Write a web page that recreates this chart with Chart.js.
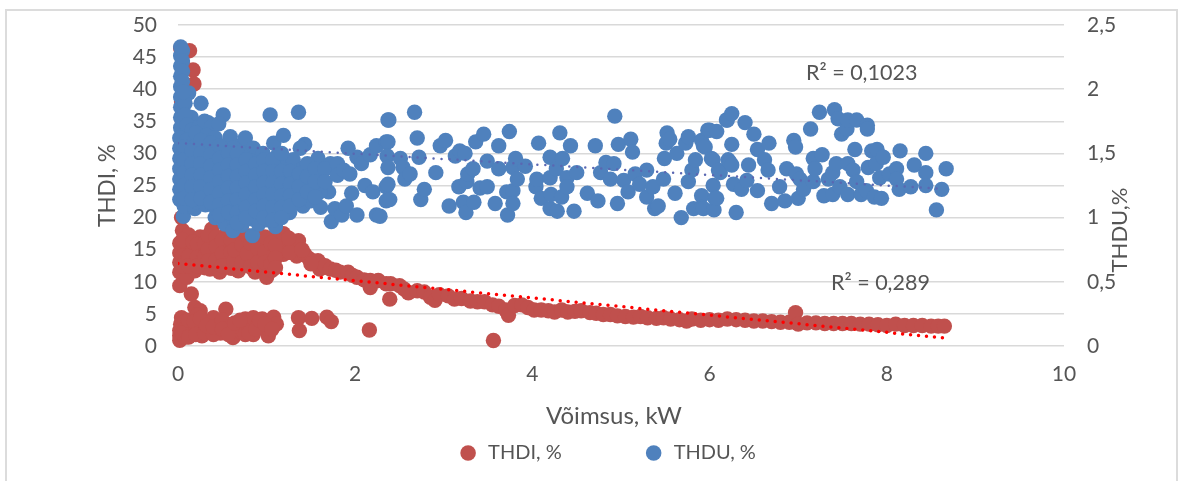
<!DOCTYPE html>
<html>
<head>
<meta charset="utf-8">
<script src="https://cdn.jsdelivr.net/npm/chart.js@4/dist/chart.umd.min.js"></script>
<style>
  html, body { margin: 0; padding: 0; background: #fff; }
  #frame { position: relative; width: 1178px; height: 481px; overflow: hidden; }
  #frame::after { content: ''; position: absolute; left: 5px; right: 0; top: 9px; bottom: -4px; border: 2px solid #dcdcdc; pointer-events: none; }
</style>
</head>
<body>
<div id="frame"><canvas id="chart" width="1178" height="481"></canvas></div>
<script>
// [power kW, THDI %]
const thdiPoints = [
  // spike at low power
  [0.03,46.4],[0.13,46],[0.17,43],[0.18,40.8],[0.05,44],[0.05,41],[0.04,38],[0.05,35],[0.04,32],[0.05,29],[0.04,26],[0.05,23],[0.04,20],[0.05,18],
  // main clump
  [0.02,16],[0.02,14.5],[0.02,13],[0.02,11.5],[0.02,9.4],[0.07,15.5],[0.08,13.5],[0.1,12],[0.1,10.7],[0.12,17.3],[0.13,15],[0.15,13.2],[0.19,11.7],[0.19,14.5],
  [0.25,17],[0.26,15],[0.28,13],[0.3,12.2],[0.36,12],[0.38,18.2],[0.38,16],[0.4,14],[0.45,12.6],[0.47,11.5],[0.48,15.2],[0.55,17.5],[0.56,15.6],[0.57,13.4],
  [0.6,12.1],[0.66,16],[0.68,11.7],[0.7,17.7],[0.7,14.2],[0.76,12.6],[0.8,15.4],[0.84,13],[0.87,11.5],[0.88,16.4],[0.93,17],[0.93,14.4],[0.96,12.3],[1,10.7],
  [1,15.7],[1.03,13.2],[1.06,11.8],[1.08,17],[1.09,14.8],[1.19,17.5],[1.19,14.3],[1.23,15.9],[1.32,14.9],[1.36,16.4],[1.34,14],[1.43,14.3],[1.48,13.6],[1.58,13.3],
  [1.6,12],[1.66,12.5],[1.72,12],[1.78,11.8],[1.83,11.5],[1.92,11.5],[1.97,11],[2.02,10.7],[2.1,10.3],[2.17,10.2],[2.17,9.1],[2.26,10.2],[2.35,9.7],
  [0.05,16.5],[0.05,14],[0.05,12.5],[0.12,14],[0.12,12.5],[0.17,16.2],[0.22,15.8],[0.22,13.8],[0.22,12.5],[0.3,16],[0.3,14],[0.34,17.2],[0.34,15],[0.34,13.2],
  [0.43,17],[0.43,15.5],[0.43,13.4],[0.5,16.5],[0.5,14.4],[0.5,12.5],[0.6,16.5],[0.6,14.6],[0.63,13.2],[0.64,15],[0.72,15.8],[0.72,13],[0.78,17.2],[0.78,14.4],
  [0.82,16],[0.82,12.3],[0.9,15.2],[0.9,13],[0.98,17],[0.98,14.6],[0.98,13],[1.05,16],[1.05,12.8],[1.1,15.6],[1.1,13.7],[1.1,12.2],[1.26,14.6],[1.4,15],[1.5,12.8],[1.25,16.8],
  // lower clump
  [0.15,8.1],[0.19,6],[0.25,5.5],[0.22,4.8],[0.04,4.4],[0.03,3.4],[0.02,2.4],[0.02,1.6],[0.02,0.9],[0.08,3.8],[0.08,2.6],[0.08,1.4],[0.14,3.2],[0.15,2],
  [0.22,3.4],[0.27,1.6],[0.28,2.8],[0.34,3.8],[0.36,2.2],[0.4,4.4],[0.46,3.2],[0.48,2],[0.54,5.75],[0.55,3.4],[0.6,2.6],[0.62,1.3],[0.68,3],[0.72,2.1],
  [0.76,4.2],[0.8,3],[0.85,4.4],[0.85,1.8],[0.9,3.2],[0.95,4.2],[1.02,1.6],[1,2.8],[1.08,4.5],[1.11,3.4],[1.36,4.4],[1.37,2.4],[1.51,4.3],[1.68,4.5],[1.73,3.8],[2.16,2.5],
  [0.05,2],[0.12,4],[0.12,1.4],[0.18,3.8],[0.2,1.8],[0.25,4.3],[0.3,2],[0.32,3.2],[0.4,1.8],[0.4,3],[0.5,4],[0.5,2.6],[0.57,1.8],[0.64,3.6],[0.7,4],[0.76,1.8],[0.8,2],[0.88,2.6],[0.92,4],[0.98,3.4],[1.06,2.6],
  // tail going down to the right
  [2.39,7.3],[2.4,9.7],[2.5,9.4],[2.55,8.9],[2.6,8.3],[2.7,8.6],[2.78,8.4],[2.85,7.6],[2.9,7.1],[2.95,8],[3.05,7.8],[3.12,7.3],[3.2,7.4],[3.3,7],
  [3.38,6.9],[3.46,6.9],[3.55,6.4],[3.56,0.85],[3.62,6.2],[3.7,5.6],[3.73,4.8],[3.8,6.3],[3.88,6.4],[3.95,6],[4.02,5.6],[4.1,5.6],[4.18,5.5],[4.25,5.3],
  [4.33,5.6],[4.4,5.3],[4.48,5.4],[4.55,5.5],[4.65,5.2],[4.72,5.1],[4.8,4.9],[4.88,4.9],[4.96,4.7],[5.05,4.6],[5.14,4.5],[5.22,4.6],[5.3,4.4],[5.4,4.3],
  [5.48,4.4],[5.56,4.2],[5.66,4.1],[5.74,3.9],[5.8,4.2],[5.9,4],[6,4.1],[6.1,4],[6.2,4.2],[6.3,4.1],[6.4,4],[6.5,3.9],[6.6,3.9],[6.7,3.8],
  [6.8,3.7],[6.9,3.7],[6.97,5.2],[7,3.4],[7.1,3.6],[7.2,3.6],[7.3,3.5],[7.4,3.5],[7.5,3.5],[7.6,3.5],[7.7,3.4],[7.8,3.4],[7.9,3.3],[8,3.2],
  [8.1,3.4],[8.2,3.2],[8.3,3.2],[8.4,3.2],[8.5,3.1],[8.58,3.1],[8.65,3.1]
]

// [power kW, THDU %]
const thduPoints = [
  // spike at low power
  [0.03,2.33],[0.03,2.26],[0.03,2.18],[0.03,2.1],[0.03,2.02],[0.03,1.94],[0.03,1.86],[0.03,1.78],[0.03,1.7],[0.12,1.97],[0.08,1.89],[0.15,1.78],[0.26,1.89],[0.51,1.8],
  [0.05,2.3],[0.05,2.22],[0.05,2.14],[0.05,2.06],[0.06,1.98],[0.08,1.8],[0.1,1.72],[0.16,1.68],[0.24,1.71],[0.34,1.74],
  [0.3,1.75],[0.38,1.71],[1.04,1.8],[1.36,1.82],[0.46,1.73],[0.59,1.63],[0.7,1.56],[0.76,1.62],[0.85,1.54],[0.96,1.5],[1.08,1.58],[1.19,1.64],[1.43,1.57],[1.38,1.54],
  // dense block under 1.6 kW, typed column by column
  [0.02,1.62],[0.02,1.54],[0.02,1.46],[0.02,1.38],[0.02,1.3],[0.02,1.22],[0.02,1.14],[0.06,1.01],[0.07,1.09],[0.1,1.6],[0.11,1.5],[0.11,1.41],[0.1,1.33],[0.12,1.24],
  [0.12,1.16],[0.19,1.07],[0.2,1.66],[0.2,1.56],[0.21,1.47],[0.2,1.38],[0.22,1.29],[0.21,1.2],[0.22,1.12],[0.32,1.64],[0.31,1.55],[0.3,1.46],[0.32,1.37],[0.31,1.28],
  [0.3,1.19],[0.31,1.1],[0.42,1.62],[0.42,1.53],[0.41,1.44],[0.42,1.35],[0.43,1.26],[0.41,1.17],[0.42,1.08],[0.42,1],[0.53,0.95],[0.52,1.05],[0.52,1.14],[0.53,1.23],
  [0.52,1.32],[0.53,1.41],[0.52,1.5],[0.62,0.9],[0.62,1],[0.62,1.09],[0.63,1.18],[0.62,1.27],[0.63,1.36],[0.62,1.45],[0.62,1.54],[0.72,0.94],[0.73,1.04],[0.72,1.13],
  [0.73,1.22],[0.72,1.31],[0.73,1.4],[0.72,1.49],[0.84,0.86],[0.83,0.99],[0.82,1.08],[0.83,1.17],[0.83,1.26],[0.82,1.35],[0.83,1.44],[0.91,0.95],[0.92,1.04],[0.93,1.13],
  [0.92,1.22],[0.93,1.31],[0.92,1.4],[1.02,0.98],[1.03,1.07],[1.02,1.16],[1.03,1.25],[1.02,1.34],[1.03,1.43],[1.1,0.93],[1.12,1.03],[1.13,1.12],[1.12,1.21],[1.13,1.3],
  [1.12,1.39],[1.12,1.48],[1.26,1.04],[1.22,1.13],[1.23,1.22],[1.22,1.31],[1.23,1.4],[1.3,1.45],[1.32,1.12],[1.33,1.2],[1.32,1.3],[1.41,1.09],[1.41,1.18],[1.41,1.38],
  [1.42,1.28],[1.49,1.24],[1.5,1.13],[1.5,1.33],[1.58,1.46],[1.61,1.08],[1.6,1.32],[1.7,1.2],[1.6,1.2],[1.72,1.42],
  [0.07,1.55],[0.07,1.45],[0.07,1.35],[0.07,1.25],[0.07,1.15],[0.16,1.52],[0.16,1.42],[0.16,1.33],[0.16,1.24],[0.16,1.14],[0.26,1.6],[0.26,1.5],[0.26,1.42],[0.26,1.33],[0.26,1.24],[0.26,1.15],
  [0.37,1.58],[0.37,1.49],[0.37,1.4],[0.37,1.31],[0.37,1.22],[0.37,1.12],[0.47,1.56],[0.47,1.46],[0.47,1.37],[0.47,1.28],[0.47,1.19],[0.47,1.1],[0.47,1.02],[0.57,1.5],[0.57,1.41],[0.57,1.32],[0.57,1.23],[0.57,1.13],[0.57,1.04],
  [0.67,1.5],[0.67,1.41],[0.67,1.32],[0.67,1.23],[0.67,1.14],[0.67,1.04],[0.67,0.96],[0.77,1.45],[0.77,1.36],[0.77,1.27],[0.77,1.18],[0.77,1.08],[0.77,1],[0.88,1.42],[0.88,1.33],[0.88,1.24],[0.88,1.14],[0.88,1.05],
  [0.97,1.45],[0.97,1.36],[0.97,1.27],[0.97,1.18],[0.97,1.09],[0.97,1],[1.07,1.45],[1.07,1.36],[1.07,1.27],[1.07,1.18],[1.07,1.08],[1.07,0.98],[1.17,1.5],[1.17,1.36],[1.17,1.26],[1.17,1.17],[1.17,1.08],[1.17,1],
  [1.27,1.36],[1.27,1.26],[1.27,1.17],[1.27,1.09],[1.37,1.34],[1.37,1.24],[1.37,1.14],[1.46,1.42],[1.46,1.32],[1.46,1.2],[1.55,1.38],[1.55,1.28],[1.55,1.16],[1.66,1.38],[1.66,1.28],[1.8,1.42],[1.8,1.33],
  // scattered part
  [1.73,0.97],[1.77,1.07],[1.85,1.02],[1.87,1.37],[1.9,1.09],[1.92,1.54],[1.94,1.34],[1.96,1.19],[2.02,1.47],[2.02,1.02],[2.07,1.42],[2.11,1.25],[2.17,1.49],[2.2,1.2],
  [2.24,1.56],[2.24,1.02],[2.35,1.59],[2.35,1.24],[2.35,1.13],[2.37,1.76],[2.38,1.76],[2.37,1.59],[2.36,1.48],[2.37,1.39],[2.37,1.26],[2.39,1.14],[2.28,1.01],[2.51,1.46],
  [2.54,1.39],[2.56,1.3],[2.62,1.34],[2.67,1.82],[2.7,1.62],[2.72,1.47],[2.74,1.14],[2.78,1.22],[2.91,1.35],[2.96,1.56],[3.02,1.6],[3.06,1.09],[3.13,1.48],[3.17,1.24],
  [3.18,1.52],[3.22,1.12],[3.24,1.5],[3.25,1.04],[3.26,1.28],[3.27,1.34],[3.33,1.38],[3.34,1.12],[3.36,1.59],[3.41,1.23],[3.45,1.65],[3.49,1.44],[3.49,1.24],[3.58,1.11],
  [3.62,1.56],[3.62,1.38],[3.71,1.2],[3.72,1.02],[3.74,1.67],[3.78,1.39],[3.78,1.21],[3.78,1.11],[3.81,1.46],[3.83,1.3],[3.92,1.4],[4.04,1.24],[4.05,1.3],[4.07,1.58],
  [4.1,1.15],[4.2,1.47],[4.2,1.31],[4.2,1.07],[4.21,1.18],[4.27,1.38],[4.28,1.05],[4.31,1.66],[4.33,1.16],[4.34,1.46],[4.39,1.31],[4.39,1.24],[4.43,1.56],[4.47,1.05],
  [4.5,1.35],[4.62,1.19],[4.71,1.56],[4.74,1.13],[4.77,1.35],[4.83,1.43],[4.88,1.3],[4.92,1.42],[4.93,1.79],[4.96,1.11],[4.97,1.57],[5.03,1.29],[5.08,1.2],[5.11,1.61],
  [5.13,1.51],[5.16,1.34],[5.21,1.26],[5.29,1.37],[5.29,1.16],[5.36,1.24],[5.38,1.07],[5.42,1.09],[5.48,1.3],[5.49,1.46],[5.51,1.58],[5.52,1.66],[5.55,1.61],[5.61,1.19],
  [5.63,1.5],[5.68,1],[5.73,1.58],[5.76,1.63],[5.76,1.28],[5.8,1.37],[5.82,1.07],[5.84,1.45],[5.91,1.6],[5.91,1.17],[5.91,1.08],[5.93,1.56],[5.93,1.07],[5.95,1.55],
  [5.98,1.68],[6,1.68],[6.02,1.46],[6.04,1.45],[6.04,1.25],[6.05,1.06],[6.06,1.15],[6.08,1.67],[6.08,1.15],[6.1,1.37],[6.12,1.35],[6.19,1.76],[6.2,1.76],[6.21,1.45],
  [6.23,1.43],[6.25,1.81],[6.25,1.57],[6.25,1.41],[6.27,1.26],[6.3,1.04],[6.36,1.22],[6.4,1.74],[6.42,1.29],[6.44,1.41],[6.5,1.65],[6.54,1.53],[6.54,1.21],[6.62,1.45],
  [6.66,1.37],[6.67,1.58],[6.7,1.11],[6.79,1.24],[6.85,1.13],[6.87,1.38],[6.95,1.6],[6.97,1.55],[6.98,1.34],[7,1.15],[7.02,1.3],[7.06,1.22],[7.14,1.69],[7.17,1.46],
  [7.17,1.28],[7.19,1.38],[7.24,1.82],[7.27,1.49],[7.29,1.17],[7.34,1.3],[7.39,1.35],[7.39,1.18],[7.41,1.84],[7.43,1.42],[7.45,1.77],[7.47,1.24],[7.49,1.65],[7.55,1.69],
  [7.56,1.76],[7.56,1.42],[7.56,1.18],[7.62,1.37],[7.64,1.53],[7.66,1.76],[7.66,1.28],[7.71,1.18],[7.77,1.21],[7.78,1.72],[7.78,1.69],[7.79,1.39],[7.83,1.52],[7.86,1.16],
  [7.88,1.42],[7.89,1.53],[7.92,1.31],[7.94,1.15],[7.96,1.47],[8.03,1.34],[8.11,1.38],[8.11,1.3],[8.14,1.22],[8.15,1.52],[8.27,1.24],[8.31,1.41],[8.44,1.5],[8.44,1.35],
  [8.44,1.25],[8.56,1.06],[8.62,1.22],[8.67,1.38]
]

const thdiTrend = [[0, 12.85], [8.65, 1.25]]
const thduTrend = [[0, 1.58], [8.6, 1.225]]

const seriesNames = ['THDI, %', 'THDU, %']
const primaryTicks = [0, 5, 10, 15, 20, 25, 30, 35, 40, 45, 50]
const secondaryTicks = ['0', '0,5', '1', '1,5', '2', '2,5']
const powerTicks = [0, 2, 4, 6, 8, 10]
const r2Labels = ['R² = 0,1023', 'R² = 0,289']

const toXY = pts => pts.map(p => ({ x: p[0], y: p[1] }))
const FONT = 'Lato, "Open Sans", sans-serif'
const TEXT = '#555555'
const GRID = '#d9d9d9'

// THDU title reads bottom to top on the right axis, chart.js would flip it, so R2 and the titles go here
const extraText = {
  id: 'extraText',
  afterDatasetsDraw(chart) {
    const { ctx } = chart
    ctx.save()
    ctx.fillStyle = TEXT
    ctx.font = '21.5px ' + FONT
    ctx.textBaseline = 'middle'
    ctx.textAlign = 'left'
    ctx.fillText(r2Labels[0], 806, 73)
    ctx.fillText(r2Labels[1], 831, 283)
    ctx.textAlign = 'center'
    ctx.font = '24px ' + FONT
    ctx.fillText('Võimsus, kW', 614, 416)
    ctx.translate(1120, 230)
    ctx.rotate(-Math.PI / 2)
    ctx.font = '22px ' + FONT
    ctx.fillText('THDU,%', 0, 0)
    ctx.restore()
  }
}

// y axes keep their full box, no inset for half a label
const noInset = s => { s.paddingTop = 0; s.paddingBottom = 0 }

new Chart(document.getElementById('chart'), {
  type: 'scatter',
  data: {
    datasets: [
      { label: seriesNames[0], data: toXY(thdiPoints), yAxisID: 'y', backgroundColor: '#c0504d', borderColor: '#c0504d', pointRadius: 7.7, pointBorderWidth: 0, clip: false, order: 4 },
      { label: seriesNames[1], data: toXY(thduPoints), yAxisID: 'y2', backgroundColor: '#4f81bd', borderColor: '#4f81bd', pointRadius: 7.7, pointBorderWidth: 0, clip: false, order: 3 },
      { label: 'trendI', data: toXY(thdiTrend), yAxisID: 'y', showLine: true, pointRadius: 0, borderColor: '#ff0000', borderWidth: 3.5, borderDash: [0, 8], borderCapStyle: 'round', order: 1 },
      { label: 'trendU', data: toXY(thduTrend), yAxisID: 'y2', showLine: true, pointRadius: 0, borderColor: '#5a67b2', borderWidth: 2.5, borderDash: [0, 8], borderCapStyle: 'round', order: 2 }
    ]
  },
  options: {
    responsive: false,
    animation: false,
    layout: { autoPadding: false, padding: { left: 36, right: 0, top: 25, bottom: 8 } },
    plugins: {
      tooltip: { enabled: false },
      legend: {
        position: 'bottom',
        labels: {
          usePointStyle: true,
          boxHeight: 11,
          padding: 82,
          color: TEXT,
          font: { family: FONT, size: 20 },
          filter: item => item.datasetIndex < 2,
          sort: (a, b) => a.datasetIndex - b.datasetIndex
        }
      }
    },
    scales: {
      x: {
        type: 'linear',
        min: 0,
        max: 10,
        afterBuildTicks: s => { s.ticks = powerTicks.map(v => ({ value: v })) },
        // axis box is shorter than its labels because of the wide legend padding, so no label clip
        afterFit: s => { s.height = 15; s._computeLabelArea = () => undefined },
        grid: { display: false },
        border: { display: false },
        ticks: { color: TEXT, font: { family: FONT, size: 21 }, padding: 8, maxRotation: 0 }
      },
      y: {
        position: 'left',
        min: 0,
        max: 50,
        afterBuildTicks: s => { s.ticks = primaryTicks.map(v => ({ value: v })) },
        afterFit: s => { s.width = 142; noInset(s) },
        grid: { color: GRID, lineWidth: 1.5, drawTicks: false },
        border: { display: false },
        ticks: { color: TEXT, font: { family: FONT, size: 21 }, padding: 21 },
        title: { display: true, text: 'THDI, %', color: TEXT, font: { family: FONT, size: 22.5 }, padding: { top: 58, bottom: 0 } }
      },
      y2: {
        position: 'right',
        min: 0,
        max: 2.5,
        afterBuildTicks: s => { s.ticks = secondaryTicks.map((t, i) => ({ value: i * 0.5, label: t })) },
        afterFit: s => { s.width = 114; noInset(s) },
        grid: { display: false },
        border: { display: false },
        ticks: { color: TEXT, font: { family: FONT, size: 21 }, padding: 15, callback: (v, i) => secondaryTicks[i] }
      }
    }
  },
  plugins: [extraText]
})
</script>
</body>
</html>
